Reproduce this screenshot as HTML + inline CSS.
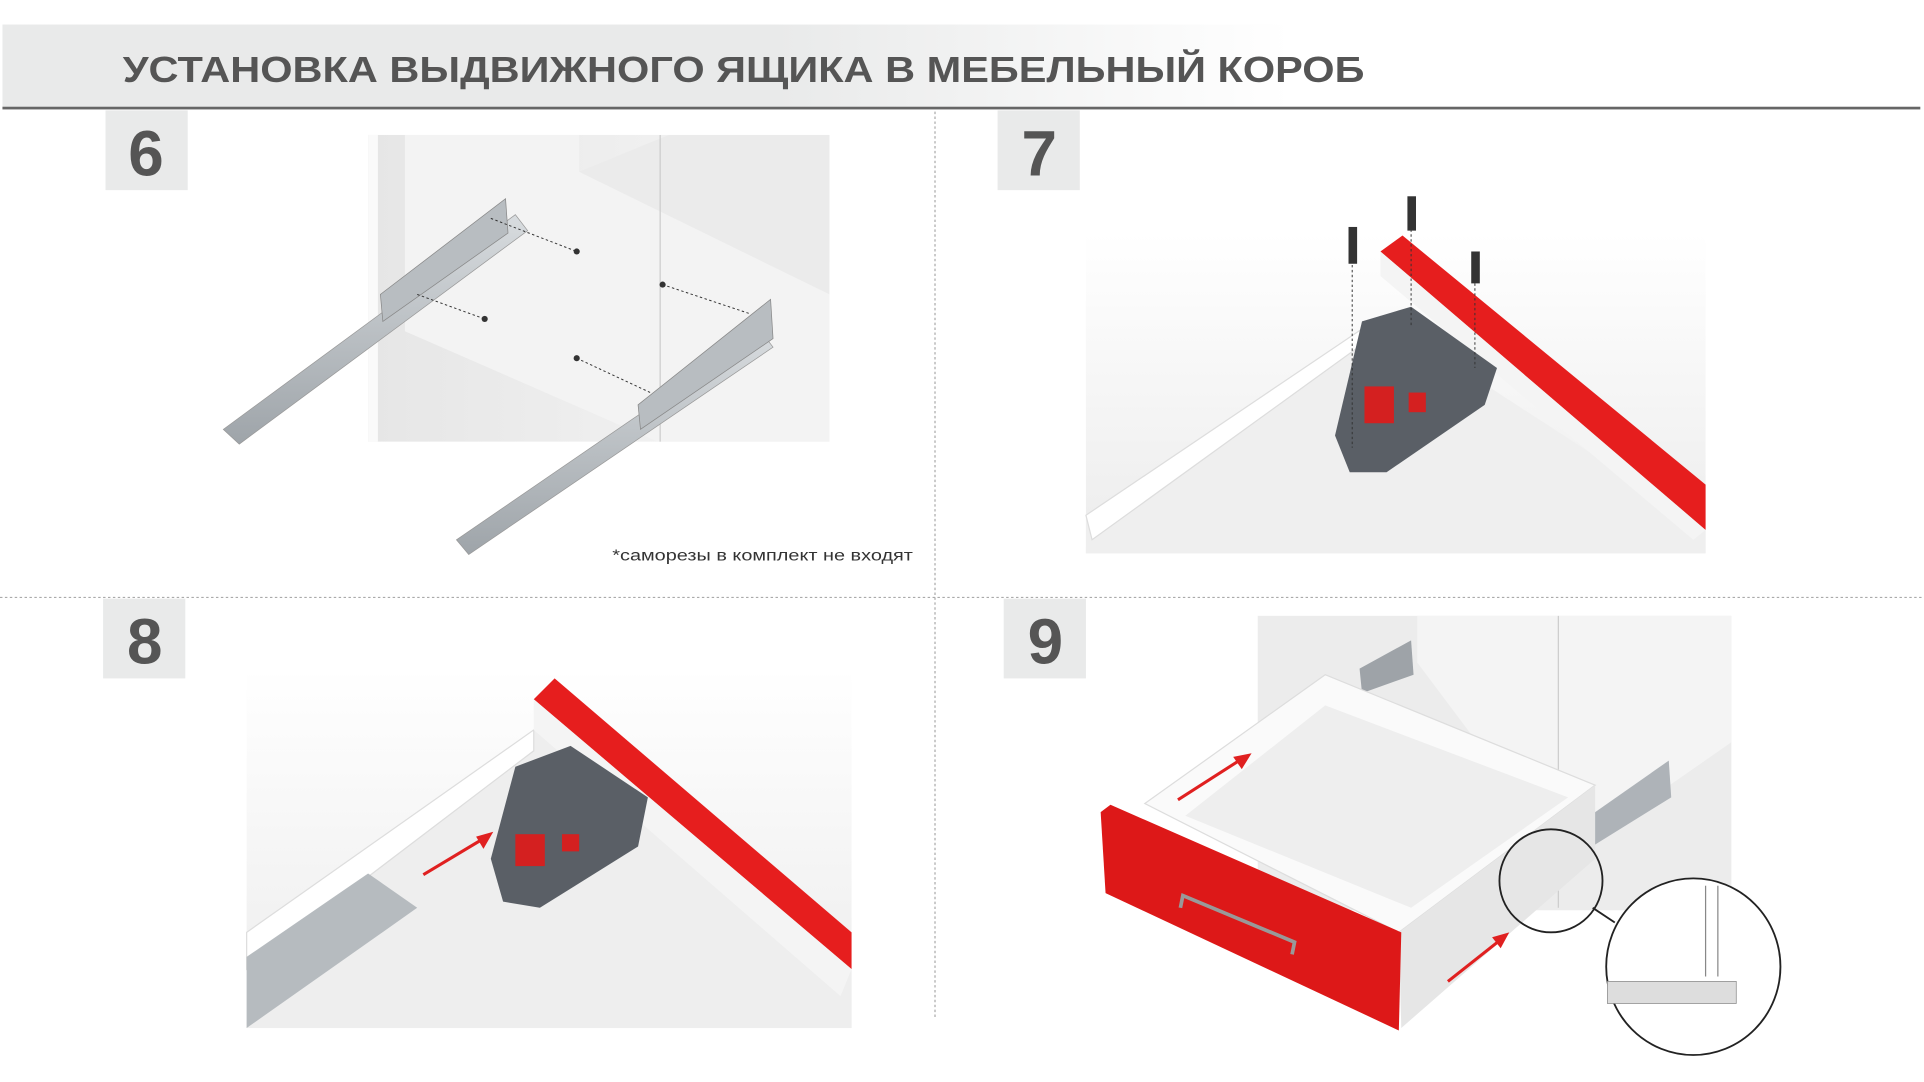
<!DOCTYPE html>
<html><head><meta charset="utf-8"><style>
html,body{margin:0;padding:0;background:#fff;width:1924px;height:1082px;overflow:hidden}
svg{display:block}
</style></head><body>
<svg width="1924" height="1082" viewBox="0 0 1568 882" preserveAspectRatio="none" xmlns="http://www.w3.org/2000/svg">
<defs>
<linearGradient id="hb" x1="0" x2="1" y1="0" y2="0">
<stop offset="0" stop-color="#e9eaea"/><stop offset="0.6" stop-color="#e9eaea"/><stop offset="1" stop-color="#fff"/></linearGradient>
<linearGradient id="wall" x1="0" x2="1"><stop offset="0" stop-color="#e6e6e6"/><stop offset="1" stop-color="#f6f6f6"/></linearGradient>
<linearGradient id="bg7" x1="0" x2="0" y1="0" y2="1"><stop offset="0" stop-color="#fff"/><stop offset="1" stop-color="#ececec"/></linearGradient>
<linearGradient id="rail" x1="0" x2="0" y1="0" y2="1"><stop offset="0" stop-color="#d8dcdf"/><stop offset="1" stop-color="#9ea4a9"/></linearGradient>
</defs>
<rect x="2" y="20" width="1050" height="68" fill="url(#hb)"/>
<text x="100" y="67" font-family="Liberation Sans, sans-serif" font-weight="bold" font-size="29.5" fill="#555" textLength="1012" lengthAdjust="spacingAndGlyphs">УСТАНОВКА ВЫДВИЖНОГО ЯЩИКА В МЕБЕЛЬНЫЙ КОРОБ</text>
<rect x="2" y="87" width="1563" height="2.2" fill="#666"/>
<line x1="762" y1="91" x2="762" y2="830" stroke="#aaa" stroke-width="1" stroke-dasharray="2,2"/>
<line x1="0" y1="487" x2="1568" y2="487" stroke="#aaa" stroke-width="1" stroke-dasharray="2,2"/>
<g font-family="Liberation Sans, sans-serif" font-weight="bold" font-size="52" fill="#555" text-anchor="middle">
<rect x="86" y="90" width="67" height="65" fill="#e9eaea"/><text x="119" y="143">6</text>
<rect x="813" y="90" width="67" height="65" fill="#e9eaea"/><text x="847" y="143">7</text>
<rect x="84" y="488" width="67" height="65" fill="#e9eaea"/><text x="118" y="541">8</text>
<rect x="818" y="488" width="67" height="65" fill="#e9eaea"/><text x="852" y="541">9</text>
</g>
<!-- panel 6 -->
<rect x="300" y="110" width="376" height="250" fill="url(#wall)"/>
<rect x="300" y="110" width="8" height="250" fill="#fafafa"/>
<polygon points="330,110 472,110 472,140 676,240 676,360 536,360 330,270" fill="#f3f3f3"/>
<polygon points="472,140 676,240 676,110 545,110" fill="#ebebeb"/>
<line x1="538" y1="110" x2="538" y2="360" stroke="#ccc"/>
<polygon points="182,350 420,175 430,188 195,362" fill="url(#rail)" stroke="#999" stroke-width="0.6"/>
<polygon points="310,240 412,162 414,190 312,262" fill="#b8bdc1" stroke="#888" stroke-width="0.6"/>
<polygon points="372,440 620,270 630,283 382,452" fill="url(#rail)" stroke="#999" stroke-width="0.6"/>
<polygon points="520,330 628,244 630,276 522,350" fill="#b8bdc1" stroke="#888" stroke-width="0.6"/>
<g stroke="#333" stroke-width="0.8" stroke-dasharray="2,2" fill="none">
<line x1="400" y1="178" x2="470" y2="205"/><line x1="340" y1="240" x2="395" y2="260"/>
<line x1="540" y1="232" x2="612" y2="256"/><line x1="470" y1="292" x2="530" y2="320"/></g>
<g fill="#333"><circle cx="470" cy="205" r="2.5"/><circle cx="395" cy="260" r="2.5"/><circle cx="540" cy="232" r="2.5"/><circle cx="470" cy="292" r="2.5"/></g>
<text x="499" y="457" font-family="Liberation Sans, sans-serif" font-size="12.5" fill="#333" textLength="245" lengthAdjust="spacingAndGlyphs">*саморезы в комплект не входят</text>
<!-- panel 7 -->
<rect x="885" y="190" width="505" height="261" fill="url(#bg7)"/>
<polygon points="885,420 1125,258 1390,430 1390,451 885,451" fill="#efefef"/>
<polygon points="885,420 1125,258 1125,270 890,440" fill="#fff" stroke="#ddd"/>
<polygon points="1125,205 1143,192 1390,395 1390,432" fill="#e61e1e"/>
<polygon points="1125,205 1125,225 1380,440 1390,432" fill="#f4f4f4"/>
<polygon points="1088,355 1110,262 1150,250 1220,300 1210,330 1130,385 1100,385" fill="#5a5f66"/>
<rect x="1112" y="315" width="24" height="30" fill="#d42020"/><rect x="1148" y="320" width="14" height="16" fill="#d42020"/>
<g stroke="#333" stroke-width="0.8" stroke-dasharray="2,2"><line x1="1102" y1="200" x2="1102" y2="365"/><line x1="1150" y1="175" x2="1150" y2="265"/><line x1="1202" y1="215" x2="1202" y2="300"/></g>
<g fill="#333"><rect x="1099" y="185" width="7" height="30"/><rect x="1147" y="160" width="7" height="28"/><rect x="1199" y="205" width="7" height="26"/></g>
<!-- panel 8 -->
<rect x="201" y="545" width="493" height="293" fill="url(#bg7)"/>
<polygon points="201,760 435,595 694,790 694,838 201,838" fill="#eeeeee"/>
<polygon points="201,760 435,595 435,612 201,790" fill="#fff" stroke="#ddd"/>
<polygon points="435,570 452,553 694,760 694,790" fill="#e61e1e"/>
<polygon points="435,570 435,595 685,812 694,790" fill="#f4f4f4"/>
<polygon points="201,780 300,712 340,740 201,838" fill="#b6bbbf"/>
<polygon points="400,700 420,625 465,608 528,650 520,690 440,740 410,735" fill="#5a5f66"/>
<rect x="420" y="680" width="24" height="26" fill="#d42020"/><rect x="458" y="680" width="14" height="14" fill="#d42020"/>
<line x1="345" y1="713" x2="395" y2="683" stroke="#e02020" stroke-width="2.5"/>
<polygon points="402,678 388,682 394,692" fill="#e02020"/>
<!-- panel 9 -->
<rect x="1025" y="502" width="386" height="240" fill="#ececec"/>
<polygon points="1155,502 1411,502 1411,605 1275,700 1155,540" fill="#f4f4f4"/>
<line x1="1270" y1="502" x2="1270" y2="740" stroke="#ccc"/>
<polygon points="1260,690 1360,620 1362,650 1262,712" fill="#aeb3b8"/>
<polygon points="1108,545 1150,522 1152,550 1110,565" fill="#9ea3a8"/>
<polygon points="933,655 1080,550 1300,640 1140,760" fill="#fafafa" stroke="#ddd"/>
<polygon points="966,665 1080,575 1278,650 1150,740" fill="#eeeeee"/>
<polygon points="1140,760 1300,640 1300,700 1142,838" fill="#e6e6e6"/>
<polygon points="897,662 905,656 1142,760 1140,840 901,728" fill="#dd1818"/>
<polyline points="962,740 964,730 1055,768 1053,778" fill="none" stroke="#999" stroke-width="3"/>
<line x1="960" y1="652" x2="1013" y2="618" stroke="#e02020" stroke-width="2.5"/><polygon points="1020,614 1005,617 1012,627" fill="#e02020"/>
<line x1="1180" y1="800" x2="1223" y2="766" stroke="#e02020" stroke-width="2.5"/><polygon points="1230,760 1216,764 1223,773" fill="#e02020"/>
<circle cx="1264" cy="718" r="42" fill="none" stroke="#222" stroke-width="1.5"/>
<line x1="1298" y1="740" x2="1316" y2="752" stroke="#222" stroke-width="1.5"/>
<ellipse cx="1380" cy="788" rx="71" ry="72" fill="#fff" stroke="#222" stroke-width="1.5"/>
<rect x="1310" y="800" width="105" height="18" fill="#ddd" stroke="#888" stroke-width="0.6"/>
<line x1="1390" y1="722" x2="1390" y2="796" stroke="#888"/><line x1="1400" y1="722" x2="1400" y2="796" stroke="#888"/>
</svg>
</body></html>
